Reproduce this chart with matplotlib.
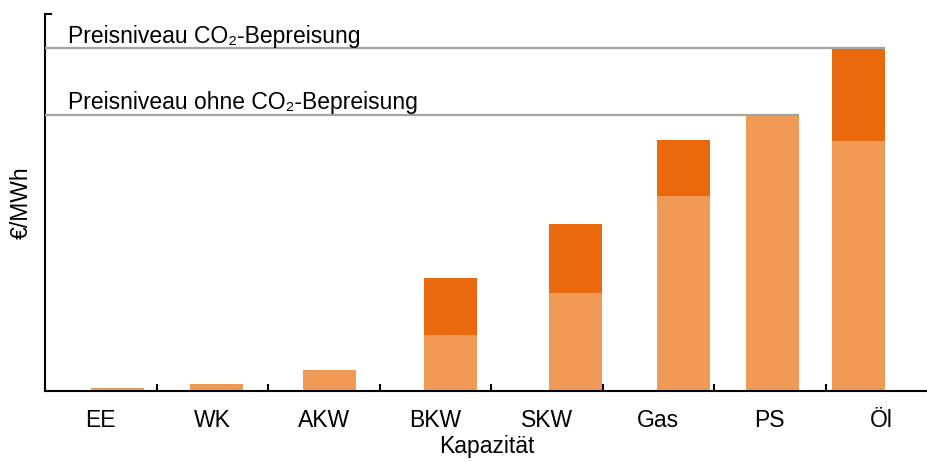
import numpy as np
import matplotlib.pyplot as plt

plt.rcParams['font.family'] = ['Liberation Sans', 'DejaVu Sans']

# categories and tick labels
categories = ["EE", "WK", "AKW", "BKW", "SKW", "Gas", "PS", "Öl"]
# bar centres along the capacity axis (one unit = one category slot)
bar_pos = [0.650, 1.538, 2.552, 3.637, 4.758, 5.726, 6.525, 7.296]
# price without CO2 cost and CO2 surcharge (arbitrary €/MWh units)
base_price = [3, 7.5, 21, 56, 98, 195, 276, 250]
co2_price = [0, 0, 0, 57, 69, 56, 0, 92]

# price levels and the labels attached to them
level_with_co2 = 343
level_without_co2 = 276.5
level_labels = ["Preisniveau CO₂-Bepreisung", "Preisniveau ohne CO₂-Bepreisung"]

light = "#F09A56"
dark = "#EA690D"
grey = "#A3A3A3"
width = 0.475
fs = 16.5

fig = plt.figure(figsize=(9.28, 4.62), dpi=100)
ax = fig.add_axes([45 / 928, 71 / 462, 883 / 928, 377 / 462])

ax.bar(bar_pos, base_price, width=width, color=light, zorder=2)
ax.bar(bar_pos, co2_price, width=width, bottom=base_price, color=dark, zorder=2)

# horizontal price levels, from the y axis to the right edge of the setting bar
top_with = np.array(base_price) + np.array(co2_price)
i_with = int(np.argmax(top_with))
i_without = categories.index("PS")
ax.plot([0, bar_pos[i_with] + width / 2], [level_with_co2] * 2,
        color=grey, lw=1.6, zorder=3, solid_capstyle="butt")
ax.plot([0, bar_pos[i_without] + width / 2], [level_without_co2] * 2,
        color=grey, lw=1.6, zorder=3, solid_capstyle="butt")
ax.text(0.206, level_with_co2 + 5, level_labels[0], fontsize=fs, va="baseline")
ax.text(0.206, level_without_co2 + 6, level_labels[1], fontsize=fs, va="baseline")

ax.set_xlim(0, 883 / 111.5)
ax.set_ylim(0, 377)

# category labels between the small separator ticks
ax.set_xticks(np.arange(len(categories)) + 0.5)
ax.set_xticklabels(categories, fontsize=fs)
ax.set_xticks(np.arange(1, len(categories)), minor=True)
ax.tick_params(axis="x", which="major", length=0, pad=13)
ax.tick_params(axis="x", which="minor", direction="in", length=5, width=1.5)
ax.set_yticks([377])
ax.set_yticklabels([])
ax.tick_params(axis="y", direction="in", length=5, width=1.5)

ax.spines["top"].set_visible(False)
ax.spines["right"].set_visible(False)
for s in ["left", "bottom"]:
    ax.spines[s].set_linewidth(1.5)

ax.set_xlabel("Kapazität", fontsize=fs, labelpad=2)
ax.set_ylabel("€/MWh", fontsize=fs, labelpad=5)

fig.savefig("out.png", dpi=100)
